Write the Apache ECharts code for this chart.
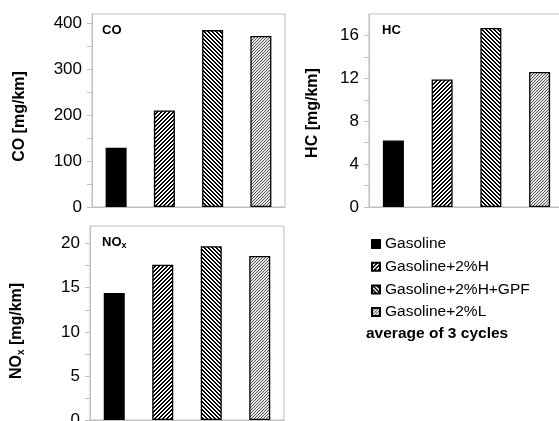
<!DOCTYPE html>
<html>
<head>
<meta charset="utf-8">
<script src="https://cdn.jsdelivr.net/npm/echarts@6/dist/echarts.min.js"></script>
<style>
    html, body {margin: 0; padding: 0; background: #fff; overflow: hidden;}
    #chart {width: 559px; height: 421px;}
</style>
</head>
<body>
<div id="chart"></div>
<script>
    // 数据
    var fuels = ['Gasoline', 'Gasoline+2%H', 'Gasoline+2%H+GPF', 'Gasoline+2%L'];
    var coValues = [129, 210, 385, 372];
    var hcValues = [6.2, 11.9, 16.7, 12.6];
    var noxValues = [14.4, 17.6, 19.7, 18.6];

    var coLabels = [0, 100, 200, 300, 400];
    var coTicks = [0, 50, 100, 150, 200, 250, 300, 350, 400];
    var hcLabels = [0, 4, 8, 12, 16];
    var hcTicks = [0, 2, 4, 6, 8, 10, 12, 14, 16];
    var noxLabels = [0, 5, 10, 15, 20];
    var noxTicks = [0, 2.5, 5, 7.5, 10, 12.5, 15, 17.5, 20];

    var font = 'Liberation Sans, Arial, sans-serif';
    var gray = '#bfbfbf';

    // 填充图案
    function makePattern(size, fn) {
        var c = document.createElement('canvas');
        c.width = size;
        c.height = size;
        var ctx = c.getContext('2d');
        for (var x = 0; x < size; x++) {
            for (var y = 0; y < size; y++) {
                ctx.fillStyle = fn(x, y);
                ctx.fillRect(x, y, 1, 1);
            }
        }
        return {image: c, repeat: 'repeat'};
    }
    var fills = [
        '#000',
        makePattern(4, function (x, y) { return (x + y) % 4 < 2 ? '#000' : '#fff'; }),
        makePattern(4, function (x, y) { return (x - y + 8) % 4 < 2 ? '#000' : '#fff'; }),
        makePattern(3, function (x, y) { return (x + y) % 3 == 0 ? '#555' : '#e8e8e8'; })
    ];

    // 三个子图
    var panels = [
        {values: coValues, max: 420, labels: coLabels, ticks: coTicks, name: 'CO [mg/km]', left: 92, top: 14, width: 193, height: 193, gap: 64, shift: 12},
        {values: hcValues, max: 18, labels: hcLabels, ticks: hcTicks, name: 'HC [mg/km]', left: 369, top: 14, width: 195, height: 193, gap: 48, shift: 5},
        {values: noxValues, max: 22, labels: noxLabels, ticks: noxTicks, name: '{a|NO}{s|x}{a| [mg/km]}', left: 90, top: 226, width: 194, height: 194, gap: 64, shift: 16}
    ];

    var rich = {
        a: {fontSize: 16, fontWeight: 'bold', fontFamily: font, color: '#000', lineHeight: 18},
        s: {fontSize: 10, fontWeight: 'bold', fontFamily: font, color: '#000', lineHeight: 11, verticalAlign: 'bottom'}
    };

    var grids = [], xAxes = [], yAxes = [], series = [];
    panels.forEach(function (p, k) {
        grids.push({
            left: p.left, top: p.top, width: p.width, height: p.height,
            outerBoundsMode: 'none', containLabel: false,
            show: true, borderColor: gray, borderWidth: 1
        });
        xAxes.push({
            type: 'category', gridIndex: k, data: fuels,
            axisLine: {lineStyle: {color: gray}}, axisTick: {show: false}, axisLabel: {show: false}
        });
        yAxes.push({
            type: 'value', gridIndex: k, min: 0, max: p.max,
            name: p.name, nameLocation: 'middle', nameGap: p.gap, nameRotate: 90,
            nameTextStyle: {fontSize: 16, fontWeight: 'bold', fontFamily: font, color: '#000', rich: rich, padding: [0, p.shift, 0, 0]},
            splitLine: {show: false},
            axisLine: {show: true, lineStyle: {color: gray}},
            axisTick: {show: true, length: 5, lineStyle: {color: gray}, customValues: p.ticks},
            axisLabel: {fontSize: 17, fontFamily: font, color: '#000', margin: 10, customValues: p.labels}
        });
        fuels.forEach(function (f, i) {
            var d = fuels.map(function (x, j) { return j == i ? p.values[j] : '-'; });
            series.push({
                name: f, type: 'bar', xAxisIndex: k, yAxisIndex: k, stack: 'p' + k,
                barWidth: 21, data: d, silent: true,
                itemStyle: {color: fills[i], borderColor: '#000', borderWidth: 1.3}
            });
        });
    });

    var myChart = echarts.init(document.getElementById('chart'));
    myChart.setOption({
        animation: false,
        grid: grids,
        xAxis: xAxes,
        yAxis: yAxes,
        legend: {
            orient: 'vertical', left: 366, top: 231,
            itemWidth: 8, itemHeight: 8, itemGap: 6.7,
            icon: 'rect', data: fuels, selectedMode: false,
            textStyle: {fontSize: 15.5, fontFamily: font, color: '#000'}
        },
        graphic: [
            {type: 'text', left: 102, top: 24, style: {text: 'CO', font: 'bold 13px ' + font, fill: '#000'}},
            {type: 'text', left: 382, top: 24, style: {text: 'HC', font: 'bold 13px ' + font, fill: '#000'}},
            {type: 'text', left: 102, top: 236, style: {text: '{a|NO}{s|x}', rich: {
                a: {font: 'bold 13px ' + font, fill: '#000', lineHeight: 15},
                s: {font: 'bold 9px ' + font, fill: '#000', lineHeight: 9, verticalAlign: 'bottom'}
            }}},
            {type: 'text', left: 366, top: 326, style: {text: 'average of 3 cycles', font: 'bold 15.5px ' + font, fill: '#000'}}
        ],
        series: series
    });
</script>
</body>
</html>
